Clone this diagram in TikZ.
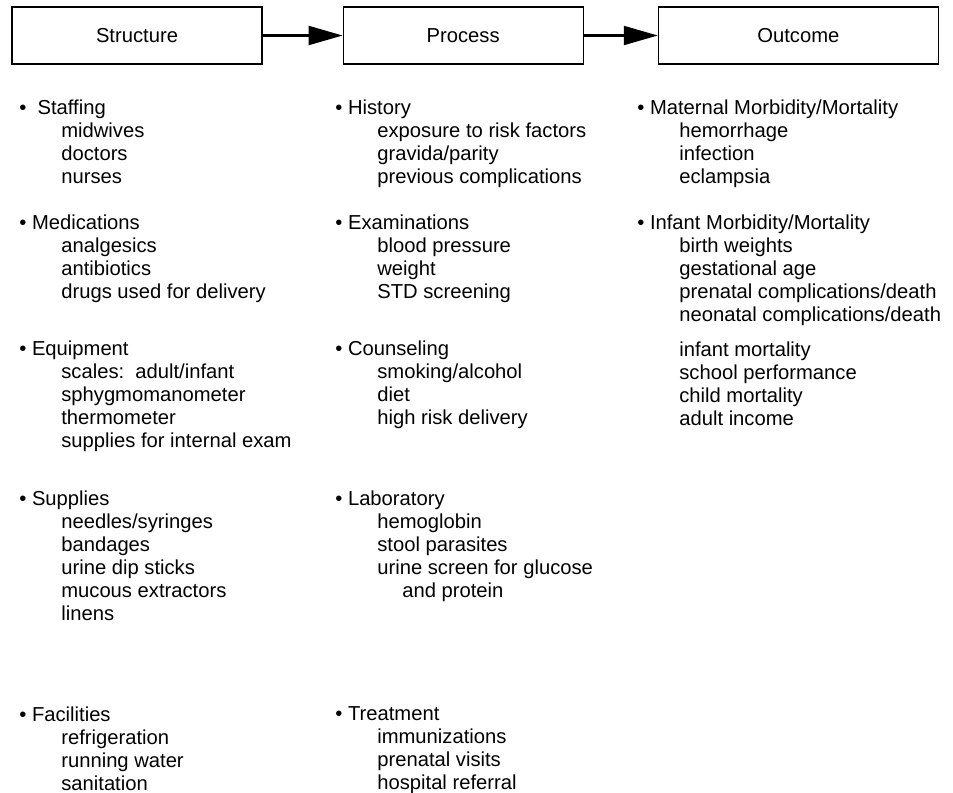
\documentclass[tikz,border=0pt]{standalone}
\usepackage{fontspec}
\setmainfont{Liberation Sans}
\usetikzlibrary{arrows.meta,positioning}
\newcommand{\subitm}{\hspace*{0.84cm}}
\newcommand{\txtfont}{\fontsize{11.5}{13.1}\selectfont}

\begin{document}
\begin{tikzpicture}[
    x=0.02cm, y=-0.02cm,
    node distance=8mm and 1.6cm,
    hdr/.style={draw, line width=0.7pt, minimum height=1.14cm, font=\txtfont},
    list/.style={anchor=north west, inner sep=0pt, align=left, font=\txtfont},
    flow/.style={-{Triangle[length=0.68cm, width=0.38cm]}, line width=1.2pt}
]
    \useasboundingbox (0,0) rectangle (953,792);

    % header row
    \node[hdr, minimum width=5cm] (structure) at (137,35.5) {Structure};
    \node[hdr, minimum width=4.8cm, right=1.6cm of structure] (process) {Process};
    \node[hdr, minimum width=5.6cm, right=1.48cm of process] (outcome) {Outcome};

    \draw[flow] (structure) -- (process);
    \draw[flow] (process) -- (outcome);

    % structure column
    \node[list] (staffing) at (19,99) {\textbullet\ \ Staffing\\\subitm midwives\\\subitm doctors\\\subitm nurses};
    \node[list] (meds) at (19,214) {\textbullet\ Medications\\\subitm analgesics\\\subitm antibiotics\\\subitm drugs used for delivery};
    \node[list] (equip) at (19,340) {\textbullet\ Equipment\\\subitm scales:\ \ adult/infant\\\subitm sphygmomanometer\\\subitm thermometer\\\subitm supplies for internal exam};
    \node[list] (supplies) at (19,490) {\textbullet\ Supplies\\\subitm needles/syringes\\\subitm bandages\\\subitm urine dip sticks\\\subitm mucous extractors\\\subitm linens};
    \node[list] (facil) at (19,706) {\textbullet\ Facilities\\\subitm refrigeration\\\subitm running water\\\subitm sanitation};

    % process column
    \node[list] (history) at (335,99) {\textbullet\ History\\\subitm exposure to risk factors\\\subitm gravida/parity\\\subitm previous complications};
    \node[list] (exams) at (335,214) {\textbullet\ Examinations\\\subitm blood pressure\\\subitm weight\\\subitm STD screening};
    \node[list] (counsel) at (335,340) {\textbullet\ Counseling\\\subitm smoking/alcohol\\\subitm diet\\\subitm high risk delivery};
    \node[list] (lab) at (335,490) {\textbullet\ Laboratory\\\subitm hemoglobin\\\subitm stool parasites\\\subitm urine screen for glucose\\\subitm\hspace*{0.5cm}and protein};
    \node[list] (treat) at (335,706) {\textbullet\ Treatment\\\subitm immunizations\\\subitm prenatal visits\\\subitm hospital referral};

    % outcome column
    \node[list] (maternal) at (637,99) {\textbullet\ Maternal Morbidity/Mortality\\\subitm hemorrhage\\\subitm infection\\\subitm eclampsia};
    \node[list] (infant) at (637,214) {\textbullet\ Infant Morbidity/Mortality\\\subitm birth weights\\\subitm gestational age\\\subitm prenatal complications/death\\\subitm neonatal complications/death\\[0.24cm]
        \subitm infant mortality\\\subitm school performance\\\subitm child mortality\\\subitm adult income};
\end{tikzpicture}
\end{document}
